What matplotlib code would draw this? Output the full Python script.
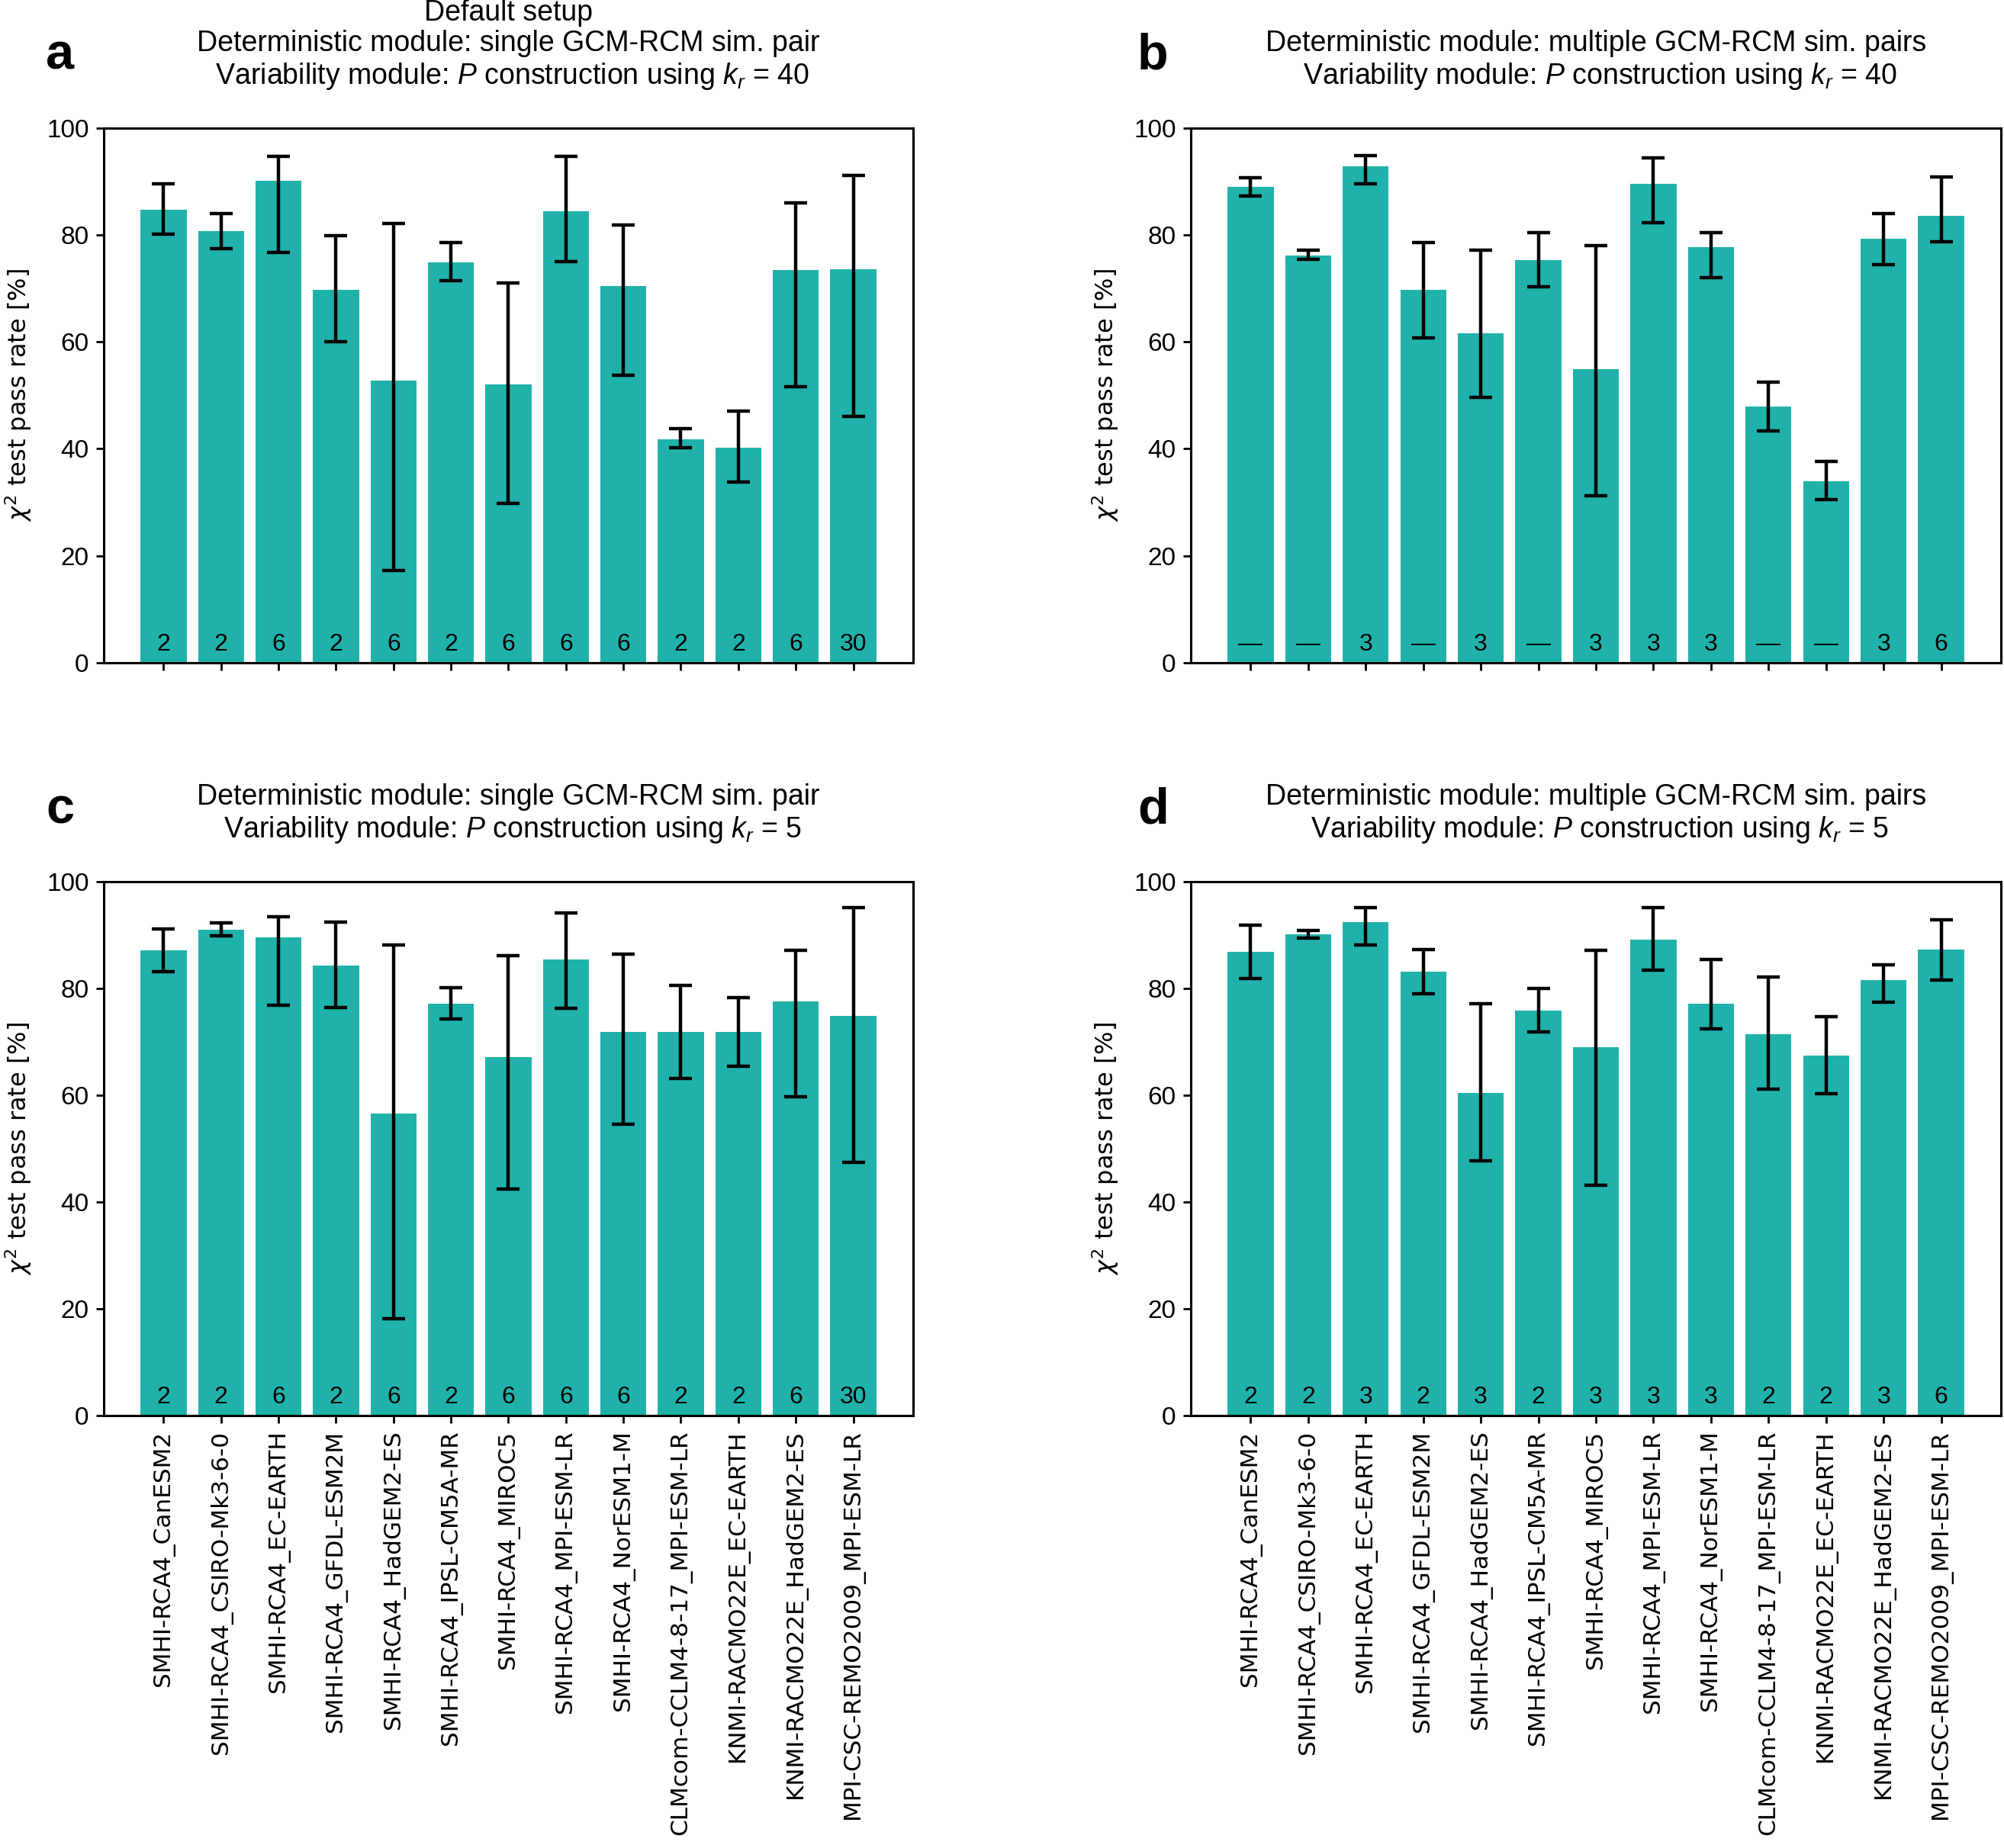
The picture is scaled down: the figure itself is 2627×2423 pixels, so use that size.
import matplotlib
matplotlib.use('Agg')
import matplotlib.pyplot as plt
import numpy as np

plt.rcParams['font.family'] = ['Liberation Sans', 'DejaVu Sans']
plt.rcParams['mathtext.fontset'] = 'custom'
plt.rcParams['mathtext.rm'] = 'Liberation Sans'
plt.rcParams['mathtext.it'] = 'Liberation Sans:italic'
plt.rcParams['mathtext.bf'] = 'Liberation Sans:bold'

models = ['SMHI-RCA4_CanESM2', 'SMHI-RCA4_CSIRO-Mk3-6-0', 'SMHI-RCA4_EC-EARTH',
          'SMHI-RCA4_GFDL-ESM2M', 'SMHI-RCA4_HadGEM2-ES', 'SMHI-RCA4_IPSL-CM5A-MR',
          'SMHI-RCA4_MIROC5', 'SMHI-RCA4_MPI-ESM-LR', 'SMHI-RCA4_NorESM1-M',
          'CLMcom-CCLM4-8-17_MPI-ESM-LR', 'KNMI-RACMO22E_EC-EARTH',
          'KNMI-RACMO22E_HadGEM2-ES', 'MPI-CSC-REMO2009_MPI-ESM-LR']

# panel a
a_vals = [84.7, 80.7, 90.1, 69.8, 52.8, 74.9, 52.0, 84.5, 70.4, 41.8, 40.2, 73.4, 73.6]
a_hi = [89.6, 84.0, 94.7, 79.9, 82.2, 78.6, 71.0, 94.7, 81.9, 43.8, 47.0, 86.0, 91.1]
a_lo = [80.1, 77.4, 76.7, 60.0, 17.3, 71.5, 29.8, 75.0, 53.7, 40.2, 33.8, 51.6, 46.1]
a_n = ['2', '2', '6', '2', '6', '2', '6', '6', '6', '2', '2', '6', '30']

# panel b
b_vals = [89.0, 76.1, 92.9, 69.7, 61.6, 75.3, 54.9, 89.6, 77.8, 47.9, 33.9, 79.3, 83.6]
b_hi = [90.7, 77.1, 94.9, 78.6, 77.2, 80.4, 78.0, 94.4, 80.4, 52.5, 37.6, 84.0, 90.9]
b_lo = [87.3, 75.4, 89.6, 60.7, 49.6, 70.3, 31.2, 82.3, 72.0, 43.3, 30.5, 74.4, 78.7]
b_n = ['\u2014', '\u2014', '3', '\u2014', '3', '\u2014', '3', '3', '3', '\u2014', '\u2014', '3', '6']

# panel c
c_vals = [87.1, 91.0, 89.6, 84.3, 56.6, 77.2, 67.1, 85.4, 71.8, 71.8, 71.8, 77.6, 74.9]
c_hi = [91.1, 92.3, 93.5, 92.5, 88.1, 80.2, 86.2, 94.2, 86.4, 80.6, 78.3, 87.1, 95.1]
c_lo = [83.2, 89.9, 76.8, 76.4, 18.1, 74.3, 42.5, 76.3, 54.6, 63.1, 65.4, 59.7, 47.5]
c_n = ['2', '2', '6', '2', '6', '2', '6', '6', '6', '2', '2', '6', '30']

# panel d
d_vals = [86.8, 90.1, 92.4, 83.1, 60.4, 75.8, 69.0, 89.2, 77.1, 71.5, 67.5, 81.6, 87.3]
d_hi = [91.8, 90.9, 95.2, 87.3, 77.1, 80.0, 87.1, 95.2, 85.4, 82.1, 74.7, 84.5, 92.9]
d_lo = [81.8, 89.4, 88.2, 79.0, 47.7, 71.8, 43.1, 83.4, 72.4, 61.1, 60.3, 77.4, 81.6]
d_n = ['2', '2', '3', '2', '3', '2', '3', '3', '3', '2', '2', '3', '6']

titles = [
    'Default setup\nDeterministic module: single GCM-RCM sim. pair\n Variability module: $P$ construction using $k_r$ = 40',
    'Deterministic module: multiple GCM-RCM sim. pairs\n Variability module: $P$ construction using $k_r$ = 40',
    'Deterministic module: single GCM-RCM sim. pair\n Variability module: $P$ construction using $k_r$ = 5',
    'Deterministic module: multiple GCM-RCM sim. pairs\n Variability module: $P$ construction using $k_r$ = 5',
]
letters = ['a', 'b', 'c', 'd']

W, H = 2627, 2423
fig = plt.figure(figsize=(W / 200, H / 200), dpi=200)

positions = [
    [0.0518, 0.6414, 0.4038, 0.2893],
    [0.5942, 0.6414, 0.4043, 0.2893],
    [0.0518, 0.2340, 0.4038, 0.2889],
    [0.5942, 0.2340, 0.4043, 0.2889],
]
letter_pos = [(0.0228, 0.9626), (0.5676, 0.9626), (0.0228, 0.5543), (0.5676, 0.5543)]

data = [(a_vals, a_hi, a_lo, a_n), (b_vals, b_hi, b_lo, b_n),
        (c_vals, c_hi, c_lo, c_n), (d_vals, d_hi, d_lo, d_n)]

color = 'lightseagreen'

for k, (vals, hi, lo, nlab) in enumerate(data):
    ax = fig.add_axes(positions[k])
    x = np.arange(len(models))
    vals = np.array(vals)
    hi = np.array(hi)
    lo = np.array(lo)
    ax.bar(x, vals, width=0.8, color=color)
    ax.errorbar(x, vals, yerr=[vals - lo, hi - vals], fmt='none', ecolor='black',
                elinewidth=1.6, capsize=5.5, capthick=1.6)
    for i, t in enumerate(nlab):
        ax.text(x[i], 2.3, t, ha='center', va='baseline', fontsize=11.5, color='black')
    ax.set_ylim(0, 100)
    ax.set_yticks([0, 20, 40, 60, 80, 100])
    ax.tick_params(axis='y', labelsize=12, direction='out', length=3.5, width=1)
    ax.tick_params(axis='x', direction='out', length=3.5, width=1)
    ax.set_xticks(x)
    if k >= 2:
        ax.set_xticklabels(models, rotation=90, fontsize=11.2, family='DejaVu Sans')
    else:
        ax.set_xticklabels([])
    for s in ax.spines.values():
        s.set_linewidth(1.1)
    ax.set_ylabel(r'$\chi^2$ test pass rate [%]', fontsize=11.5, family='DejaVu Sans',
                  math_fontfamily='dejavusans', labelpad=6)
    ax.set_title(titles[k], fontsize=13.5, pad=21, linespacing=1.15)
    fig.text(letter_pos[k][0], letter_pos[k][1], letters[k], fontsize=24,
             fontweight='bold', ha='left', va='baseline')

fig.savefig('out.png', dpi=200)
